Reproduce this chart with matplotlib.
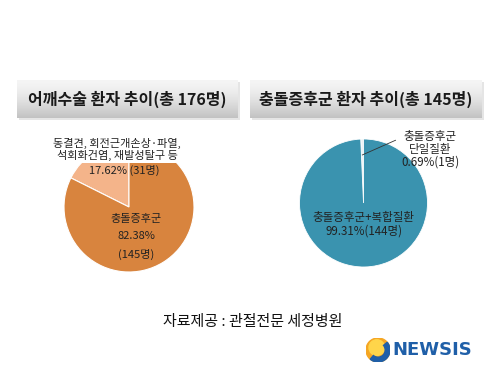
import numpy as np
import matplotlib.pyplot as plt
from matplotlib.patches import Circle, Wedge

plt.rcParams['font.family'] = ['Noto Sans CJK KR', 'DejaVu Sans']

# data
left_title = "어깨수술 환자 추이(총 176명)"
left_labels = ["동결견, 회전근개손상·파열,\n석회화건염, 재발성탈구 등\n17.62% (31명)", "충돌증후군\n\n82.38%\n\n(145명)"]
left_values = [31, 145]
left_colors = ["#F4B48A", "#D8843E"]

right_title = "충돌증후군 환자 추이(총 145명)"
right_labels = ["충돌증후군\n단일질환\n0.69%(1명)", "충돌증후군+복합질환\n99.31%(144명)"]
right_values = [1, 144]
right_colors = ["#EAF3F6", "#3A93AF"]

source = "자료제공 : 관절전문 세정병원"

W, H = 500, 375
fig = plt.figure(figsize=(5, 3.75), dpi=100)
fig.patch.set_facecolor("white")


def px_axes(x0, y0, x1, y1):
    # pixel box (top-left origin) -> figure axes
    return fig.add_axes([x0 / W, 1 - y1 / H, (x1 - x0) / W, (y1 - y0) / H])


def title_box(x0, y0, x1, y1, text):
    # faint shadow
    sh = px_axes(x0 + 2, y0 + 2, x1 + 2, y1 + 2)
    sh.imshow(np.ones((2, 2, 3)) * 0.9, aspect="auto", extent=[0, 1, 0, 1])
    sh.axis("off")
    ax = px_axes(x0, y0, x1, y1)
    g = np.linspace(0, 1, 64)
    shade = 0.96 - 0.2 * g ** 1.5
    img = np.repeat(shade[:, None, None], 3, axis=2).repeat(2, axis=1)
    ax.imshow(img, aspect="auto", extent=[0, 1, 0, 1])
    ax.set_xlim(0, 1)
    ax.set_ylim(0, 1)
    ax.axis("off")
    ax.text(0.5, 0.5, text, ha="center", va="center", fontsize=11.5,
            fontweight="bold", color="#1a1a1a")


def pie_axes(cx, cy, r):
    ax = px_axes(cx - r, cy - r, cx + r, cy + r)
    ax.set_xlim(-1, 1)
    ax.set_ylim(-1, 1)
    ax.axis("off")
    return ax


title_box(17, 80, 238, 118, left_title)
title_box(250, 80, 482, 118, right_title)

# left pie
ax1 = pie_axes(129, 207, 65)
ax1.pie(left_values, colors=left_colors, startangle=90, counterclock=True,
        radius=1, wedgeprops=dict(edgecolor="white", linewidth=0.8))
ax1.set_xlim(-1, 1)
ax1.set_ylim(-1, 1)
small_lines = left_labels[0].split("\n")
# first two lines sit on a white box that hides the top of the pie
ax1.text(-0.185, 0.885, "\n".join(small_lines[:2]), ha="center", va="center",
         fontsize=8, linespacing=1.2, color="#222222", zorder=5,
         bbox=dict(boxstyle="square,pad=0.15", fc="white", ec="none"))
ax1.text(-0.08, 0.57, small_lines[2], ha="center", va="center",
         fontsize=8, color="#222222", zorder=5)
ax1.text(0.11, -0.46, left_labels[1], ha="center", va="center",
         fontsize=8, linespacing=0.84, color="#222222")

# right pie
ax2 = pie_axes(363.5, 203, 64)
ax2.pie(right_values, colors=right_colors, startangle=90, counterclock=True,
        radius=1, wedgeprops=dict(edgecolor="white", linewidth=0.6))
ax2.set_xlim(-1, 1)
ax2.set_ylim(-1, 1)
ax2.annotate(right_labels[0], xy=(-0.02, 0.75), xytext=(1.04, 0.84),
             ha="center", va="center", fontsize=8.3, linespacing=0.95,
             color="#222222", annotation_clip=False,
             arrowprops=dict(arrowstyle="-", color="#333333", lw=0.6,
                             shrinkB=0, relpos=(0.0, 0.8)))
ax2.text(0.0, -0.33, right_labels[1], ha="center", va="center",
         fontsize=8.3, linespacing=1.0, color="#222222")

# source
fig.text(253 / W, 1 - 322 / H, source, ha="center", va="center",
         fontsize=10.8, color="#111111")

# NEWSIS logo
lg = px_axes(366, 338, 390, 362)
lg.set_xlim(-1, 1)
lg.set_ylim(-1, 1)
lg.set_aspect("equal")
lg.axis("off")
lg.add_patch(Circle((0, 0), 1, color="#F5A623"))
lg.add_patch(Circle((-0.1, 0.2), 0.65, color="#FFD54A"))
lg.add_patch(Wedge((0, 0), 1, 230, 40, width=0.4, color="#1F5FA8"))
fig.text(392 / W, 1 - 350 / H, "NEWSIS", ha="left", va="center",
         fontsize=13, fontweight="bold", color="#1F5FA8",
         family=["DejaVu Sans"])

fig.savefig("out.png", dpi=100)
